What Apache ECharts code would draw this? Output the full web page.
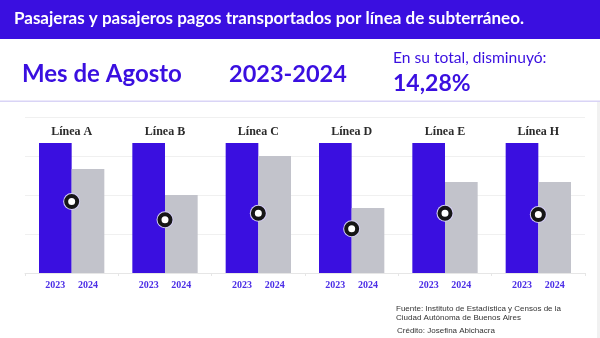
<!DOCTYPE html>
<html>
<head>
<meta charset="utf-8">
<script src="https://cdn.jsdelivr.net/npm/echarts@6/dist/echarts.min.js"></script>
<style>
  html, body { margin: 0; padding: 0; background: #ffffff; }
  #chart { width: 600px; height: 338px; }
</style>
</head>
<body>
<div id="chart"></div>
<script>
// Líneas de subterráneo
const categorias = ['Línea A', 'Línea B', 'Línea C', 'Línea D', 'Línea E', 'Línea H'];
// Pasajeros pagos en agosto (índice, 2023 = 100)
const pasajeros2023 = [100, 100, 100, 100, 100, 100];
const pasajeros2024 = [80, 60, 90, 50, 70, 70];
// Marcadores circulares sobre cada par de barras
const marcadores = [55, 41, 46, 34, 46, 45];
const anios = ['2023', '2024'];

const violeta = '#3a0fe0';
const gris = '#c2c3cb';

const chart = echarts.init(document.getElementById('chart'), null, { renderer: 'canvas' });

const etiquetaAnio = {
  show: true,
  position: 'bottom',
  distance: 7,
  formatter: '{a}',
  color: '#4b2ee6',
  fontFamily: 'Liberation Serif',
  fontWeight: 'bold',
  fontSize: 10
};

chart.setOption({
  animation: false,
  backgroundColor: '#ffffff',
  grid: { left: 25, right: 15, top: 117, bottom: 65, containLabel: false },
  xAxis: [
    {
      type: 'category',
      data: categorias,
      position: 'bottom',
      axisLine: { show: true, lineStyle: { color: '#e6e6e6', width: 1 } },
      axisTick: { show: true, length: 3, lineStyle: { color: '#e6e6e6' } },
      axisLabel: { show: false }
    },
    {
      type: 'category',
      data: categorias,
      position: 'top',
      axisLine: { show: false },
      axisTick: { show: false },
      axisLabel: {
        show: true,
        inside: true,
        margin: 9,
        color: '#2b2b2b',
        fontFamily: 'Liberation Serif',
        fontWeight: 'bold',
        fontSize: 12
      }
    }
  ],
  yAxis: {
    type: 'value',
    min: 0,
    max: 120,
    interval: 30,
    axisLine: { show: false },
    axisTick: { show: false },
    axisLabel: { show: false },
    splitLine: { lineStyle: { color: '#f0f0f0', width: 1 } }
  },
  series: [
    {
      name: anios[0],
      type: 'bar',
      xAxisIndex: 0,
      data: pasajeros2023,
      barGap: '0%',
      barCategoryGap: '30%',
      itemStyle: { color: violeta },
      label: etiquetaAnio
    },
    {
      name: anios[1],
      type: 'bar',
      xAxisIndex: 0,
      data: pasajeros2024,
      barGap: '0%',
      barCategoryGap: '30%',
      itemStyle: { color: gris },
      label: etiquetaAnio
    },
    {
      name: 'halo',
      type: 'scatter',
      xAxisIndex: 0,
      data: marcadores,
      symbol: 'circle',
      symbolSize: 17,
      z: 3,
      itemStyle: { color: '#d4cdf6', opacity: 1 }
    },
    {
      name: 'marcador',
      type: 'scatter',
      xAxisIndex: 0,
      data: marcadores,
      symbol: 'circle',
      symbolSize: 11,
      z: 4,
      itemStyle: { color: '#ffffff', borderColor: '#161616', borderWidth: 4, opacity: 1 }
    }
  ],
  graphic: [
    { type: 'rect', shape: { x: 0, y: 0, width: 600, height: 39 }, style: { fill: violeta }, silent: true },
    {
      type: 'text', x: 14, y: 19,
      style: {
        text: 'Pasajeras y pasajeros pagos transportados por línea de subterráneo.',
        fill: '#ffffff', fontFamily: 'Lato', fontWeight: 'bold', fontSize: 17, verticalAlign: 'middle'
      }
    },
    {
      type: 'text', x: 22, y: 74,
      style: { text: 'Mes de Agosto', fill: violeta, fontFamily: 'Lato', fontWeight: 'bold', fontSize: 24, verticalAlign: 'middle' }
    },
    {
      type: 'text', x: 229, y: 74,
      style: { text: '2023-2024', fill: violeta, fontFamily: 'Lato', fontWeight: 'bold', fontSize: 23.5, verticalAlign: 'middle' }
    },
    {
      type: 'text', x: 393, y: 58,
      style: { text: 'En su total, disminuyó:', fill: violeta, fontFamily: 'Lato', fontSize: 15.6, verticalAlign: 'middle' }
    },
    {
      type: 'text', x: 393, y: 84,
      style: { text: '14,28%', fill: violeta, fontFamily: 'Lato', fontWeight: 'bold', fontSize: 23, verticalAlign: 'middle' }
    },
    { type: 'rect', shape: { x: 0, y: 100.5, width: 600, height: 1.5 }, style: { fill: '#d9d4f6' }, silent: true },
    { type: 'rect', shape: { x: 597, y: 102, width: 3, height: 236 }, style: { fill: '#f1f1f1' }, silent: true },
    {
      type: 'text', x: 396, y: 309,
      style: { text: 'Fuente: Instituto de Estadística y Censos de la', fill: '#333333', fontFamily: 'Liberation Sans', fontSize: 8, verticalAlign: 'middle' }
    },
    {
      type: 'text', x: 396, y: 318,
      style: { text: 'Ciudad Autónoma de Buenos Aires', fill: '#333333', fontFamily: 'Liberation Sans', fontSize: 8, verticalAlign: 'middle' }
    },
    {
      type: 'text', x: 397, y: 331,
      style: { text: 'Crédito: Josefina Abichacra', fill: '#333333', fontFamily: 'Liberation Sans', fontSize: 8, verticalAlign: 'middle' }
    }
  ]
});
</script>
</body>
</html>
